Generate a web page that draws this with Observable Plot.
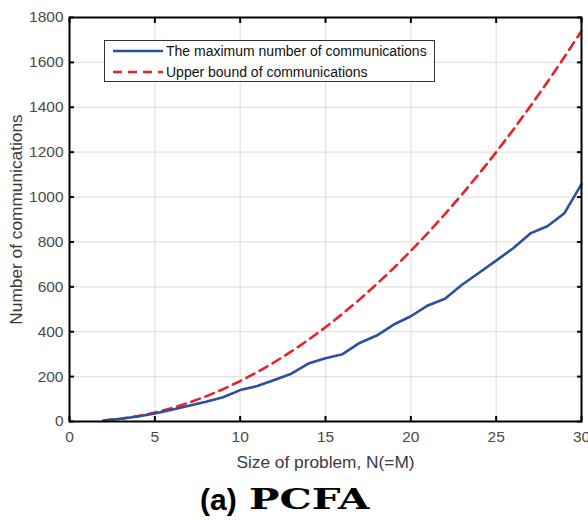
<!DOCTYPE html>
<html><head><meta charset="utf-8">
<script src="https://cdn.jsdelivr.net/npm/d3@7"></script>
<script src="https://cdn.jsdelivr.net/npm/@observablehq/plot@0.6"></script>
<style>
body{margin:0;background:#fff;font-family:"Liberation Sans",Arial,sans-serif;}
#wrap{position:relative;width:588px;height:520px;overflow:hidden;}
#legend{position:absolute;left:104px;top:40px;width:329px;height:40px;border:1px solid #333;background:#fff;font-size:14px;color:#111;}
.row{position:absolute;left:8px;height:20px;display:flex;align-items:center;white-space:nowrap;}
.row svg{margin-right:3px;}
#caption{position:absolute;top:480px;left:0;width:588px;height:40px;line-height:40px;white-space:nowrap;}
#cap-a{position:absolute;left:200px;top:0;font-family:"Liberation Sans",Arial,sans-serif;font-weight:bold;font-size:30px;}
#cap-b{position:absolute;left:249px;top:0;font-family:"DejaVu Serif",serif;font-weight:bold;font-size:27px;transform:scaleX(1.5);transform-origin:left center;}
</style></head><body>
<div id="wrap"><div id="chart"></div><div id="legend"></div><div id="caption"></div></div>
<script>
// Problem sizes N (= M)
const sizes = [2,3,4,5,6,7,8,9,10,11,12,13,14,15,16,17,18,19,20,21,22,23,24,25,26,27,28,29,30];
// The maximum number of communications
const maxComm = [4,12,22,36,52,70,88,108,140,158,185,213,258,282,300,350,383,432,469,517,547,609,663,717,772,838,870,928,1058];
// Upper bound of communications
const upperBound = [4,12,24,40,60,84,112,144,180,220,264,312,364,420,480,544,612,684,760,840,924,1012,1104,1200,1300,1404,1512,1624,1740];
const seriesNames = ["The maximum number of communications", "Upper bound of communications"];
const xTicks = [0,5,10,15,20,25,30];
const yTicks = [0,200,400,600,800,1000,1200,1400,1600,1800];
const xLabel = "Size of problem, N(=M)";
const yLabel = "Number of communications";
const captionPrefix = "(a)";
const captionName = "PCFA";

const blue = "#2c4f9f";
const red = "#e8212b";

const maxData = sizes.map((n, i) => ({n, v: maxComm[i]}));
const upData = sizes.map((n, i) => ({n, v: upperBound[i]}));
const fmt = d => String(d);

const chart = Plot.plot({
  width: 588, height: 480,
  marginLeft: 69, marginRight: 7, marginTop: 17, marginBottom: 59,
  x: {domain: [0, 30]},
  y: {domain: [0, 1800]},
  style: {fontFamily: "'Liberation Sans', Arial, sans-serif", fontSize: "15.5px", color: "#4a4a4a", background: "#fff", overflow: "visible"},
  marks: [
    Plot.gridX(xTicks, {stroke: "#e2e2e2", strokeOpacity: 1, strokeWidth: 1.2}),
    Plot.gridY(yTicks, {stroke: "#e2e2e2", strokeOpacity: 1, strokeWidth: 1.2}),
    Plot.line(upData, {x: "n", y: "v", stroke: red, strokeWidth: 2.6, strokeDasharray: "9,6"}),
    Plot.line(maxData, {x: "n", y: "v", stroke: blue, strokeWidth: 2.6}),
    Plot.axisX(xTicks, {anchor: "bottom", tickSize: -5, tickPadding: 14, stroke: "#000", strokeWidth: 2, fill: "#4a4a4a",
      tickFormat: fmt, label: null, fontSize: "15.5px"}),
    Plot.axisX(xTicks, {anchor: "top", tickSize: -5, stroke: "#000", strokeWidth: 2, tickFormat: () => "", label: null}),
    Plot.axisY(yTicks, {anchor: "left", tickSize: -5, tickPadding: 11, stroke: "#000", strokeWidth: 2, fill: "#4a4a4a",
      tickFormat: fmt, label: null, fontSize: "15.5px"}),
    Plot.axisY(yTicks, {anchor: "right", tickSize: -5, stroke: "#000", strokeWidth: 2, tickFormat: () => "", label: null}),
    Plot.text([xLabel], {frameAnchor: "bottom", dy: 41, lineAnchor: "middle", textAnchor: "middle", text: d => d, fill: "#3a3a3a", fontSize: "17.3px"}),
    Plot.text([yLabel], {frameAnchor: "left", dx: -53, rotate: -90, lineAnchor: "middle", textAnchor: "middle", text: d => d, fill: "#3a3a3a", fontSize: "17.3px"}),
    Plot.frame({stroke: "#000", strokeWidth: 2})
  ]
});
document.getElementById("chart").appendChild(chart);

// legend
const legend = document.getElementById("legend");
const styles = [{stroke: blue, dash: null}, {stroke: red, dash: "9,6"}];
seriesNames.forEach((name, i) => {
  const row = document.createElement("div");
  row.className = "row";
  row.style.top = (i === 0 ? 0 : 21) + "px";
  const svg = d3.create("svg").attr("width", 50).attr("height", 20);
  svg.append("line").attr("x1", 0).attr("x2", 50).attr("y1", 10).attr("y2", 10)
    .attr("stroke", styles[i].stroke).attr("stroke-width", 2.6)
    .attr("stroke-dasharray", styles[i].dash);
  row.appendChild(svg.node());
  const span = document.createElement("span");
  span.textContent = name;
  row.appendChild(span);
  legend.appendChild(row);
});

// caption
const cap = document.getElementById("caption");
const a = document.createElement("span"); a.id = "cap-a"; a.textContent = captionPrefix;
const b = document.createElement("span"); b.id = "cap-b"; b.textContent = captionName;
cap.appendChild(a); cap.appendChild(b);
</script>
</body></html>
